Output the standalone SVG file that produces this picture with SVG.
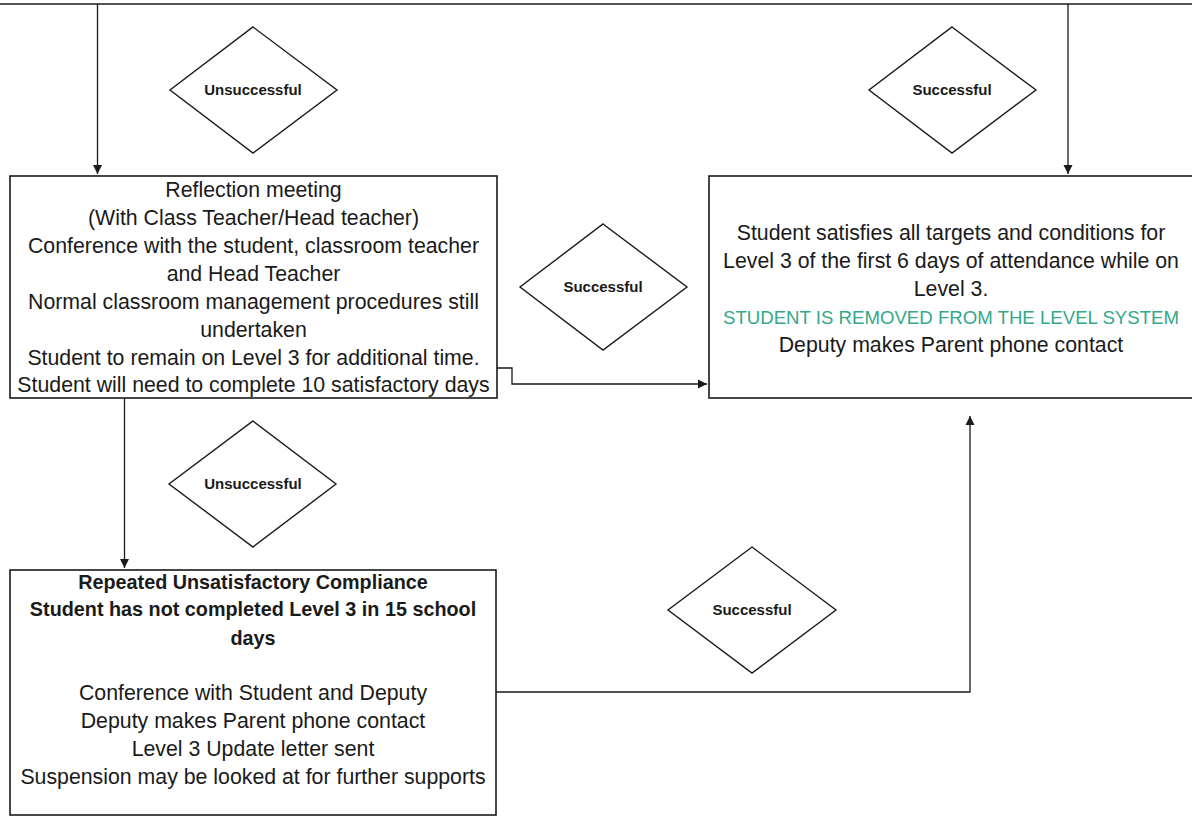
<svg xmlns="http://www.w3.org/2000/svg" width="1192" height="816" viewBox="0 0 1192 816">
<style>
.box{fill:#fff;stroke:#1a1a1a;stroke-width:1.6}
.dia{fill:#fff;stroke:#1a1a1a;stroke-width:1.4}
.con{fill:none;stroke:#1a1a1a;stroke-width:1.3}
.t{font-family:"Liberation Sans",Arial,sans-serif;font-size:21.3px;fill:#1a1a1a;text-anchor:middle}
.b{font-weight:bold;font-size:19.8px}
.g{fill:#33a88a;font-size:18.6px}
.d{font-family:"Liberation Sans",Arial,sans-serif;font-size:15px;font-weight:bold;fill:#1a1a1a;text-anchor:middle}
</style>
<defs>
<marker id="ah" markerWidth="10" markerHeight="10" refX="9" refY="5" orient="auto" markerUnits="userSpaceOnUse">
<path d="M0,0.5 L9,5 L0,9.5 Z" fill="#1a1a1a"/>
</marker>
</defs>
<rect width="1192" height="816" fill="#fff"/>
<g id="connectors">
<line class="con" x1="0" y1="4" x2="1192" y2="4" style="stroke-width:1.6"/>
<path class="con" d="M97.5,4 V174" marker-end="url(#ah)"/>
<path class="con" d="M1068,4 V174" marker-end="url(#ah)"/>
<path class="con" d="M497,368 H512 V384 H707" marker-end="url(#ah)"/>
<path class="con" d="M124.5,398 V568" marker-end="url(#ah)"/>
<path class="con" d="M496,692 H970 V416" marker-end="url(#ah)"/>
</g>
<g id="d_unsuccessful_top">
<polygon class="dia" points="253,27 337,90 253,153 170,90"/>
<text class="d" x="253" y="95">Unsuccessful</text>
</g>
<g id="d_successful_top">
<polygon class="dia" points="952,27 1036,90 952,153 869,90"/>
<text class="d" x="952" y="95">Successful</text>
</g>
<g id="box_reflection">
<rect class="box" x="10" y="176" width="487" height="222"/>
<text class="t" x="253.5" y="197">Reflection meeting</text>
<text class="t" x="253.5" y="225">(With Class Teacher/Head teacher)</text>
<text class="t" x="253.5" y="253">Conference with the student, classroom teacher</text>
<text class="t" x="253.5" y="281">and Head Teacher</text>
<text class="t" x="253.5" y="309">Normal classroom management procedures still</text>
<text class="t" x="253.5" y="337">undertaken</text>
<text class="t" x="253.5" y="365">Student to remain on Level 3 for additional time.</text>
<text class="t" x="253.5" y="392">Student will need to complete 10 satisfactory days</text>
</g>
<g id="d_successful_mid">
<polygon class="dia" points="603,224 687,287 603,350 520,287"/>
<text class="d" x="603" y="292">Successful</text>
</g>
<g id="box_removed">
<rect class="box" x="709" y="176" width="484" height="222"/>
<text class="t" x="951" y="240">Student satisfies all targets and conditions for</text>
<text class="t" x="951" y="268">Level 3 of the first 6 days of attendance while on</text>
<text class="t" x="951" y="296">Level 3.</text>
<text class="t g" x="951" y="324" textLength="456" lengthAdjust="spacingAndGlyphs">STUDENT IS REMOVED FROM THE LEVEL SYSTEM</text>
<text class="t" x="951" y="352">Deputy makes Parent phone contact</text>
</g>
<g id="d_unsuccessful_mid">
<polygon class="dia" points="253,421 336,484 253,547 169,484"/>
<text class="d" x="253" y="489">Unsuccessful</text>
</g>
<g id="d_successful_bottom">
<polygon class="dia" points="752,547 836,610 752,673 668,610"/>
<text class="d" x="752" y="615">Successful</text>
</g>
<g id="box_repeated">
<rect class="box" x="10" y="570" width="486" height="245"/>
<text class="t b" x="253" y="589">Repeated Unsatisfactory Compliance</text>
<text class="t b" x="253" y="616">Student has not completed Level 3 in 15 school</text>
<text class="t b" x="253" y="645">days</text>
<text class="t" x="253" y="700">Conference with Student and Deputy</text>
<text class="t" x="253" y="728">Deputy makes Parent phone contact</text>
<text class="t" x="253" y="756">Level 3 Update letter sent</text>
<text class="t" x="253" y="784">Suspension may be looked at for further supports</text>
</g>
</svg>
